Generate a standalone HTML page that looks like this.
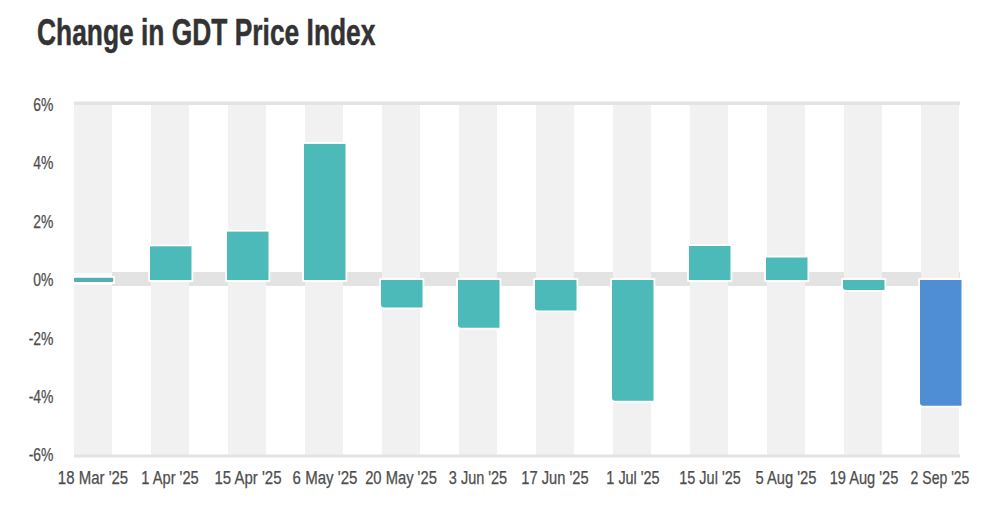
<!DOCTYPE html>
<html><head><meta charset="utf-8"><style>
html,body{-webkit-font-smoothing:antialiased;margin:0;padding:0;background:#fff;width:996px;height:518px;overflow:hidden;position:relative;font-family:"Liberation Sans",sans-serif;}
.title{position:absolute;left:37px;top:11.7px;font-size:37.2px;line-height:40px;font-weight:bold;color:#333;-webkit-text-stroke:0.5px #333;white-space:nowrap;transform-origin:0 0;transform:scaleX(0.709);}
.yl{position:absolute;left:0;width:53.4px;text-align:right;font-size:18.3px;line-height:20px;color:#4d4d4d;-webkit-text-stroke:0.25px #4d4d4d;transform-origin:100% 50%;transform:scaleX(0.76);}
.xl{position:absolute;top:468px;width:200px;text-align:center;font-size:18.3px;line-height:20px;color:#4d4d4d;-webkit-text-stroke:0.25px #4d4d4d;white-space:nowrap;transform-origin:50% 50%;transform:scaleX(0.815);}
svg{position:absolute;left:0;top:0;}
</style></head><body>
<svg width="996" height="518" viewBox="0 0 996 518">
<rect x="74" y="272" width="886" height="14" fill="#e3e3e3"/>
<rect x="74" y="105" width="38" height="350" fill="#f1f1f1"/>
<rect x="151" y="105" width="38" height="350" fill="#f1f1f1"/>
<rect x="228" y="105" width="38" height="350" fill="#f1f1f1"/>
<rect x="305" y="105" width="38" height="350" fill="#f1f1f1"/>
<rect x="382" y="105" width="38" height="350" fill="#f1f1f1"/>
<rect x="459" y="105" width="38" height="350" fill="#f1f1f1"/>
<rect x="536" y="105" width="38" height="350" fill="#f1f1f1"/>
<rect x="613" y="105" width="38" height="350" fill="#f1f1f1"/>
<rect x="690" y="105" width="38" height="350" fill="#f1f1f1"/>
<rect x="767" y="105" width="38" height="350" fill="#f1f1f1"/>
<rect x="844" y="105" width="38" height="350" fill="#f1f1f1"/>
<rect x="921" y="105" width="38" height="350" fill="#f1f1f1"/>
<rect x="74" y="101.5" width="886" height="3.5" fill="#e3e3e3"/>
<rect x="74" y="454.5" width="886" height="3" fill="#e3e3e3"/>
<rect x="74" y="273" width="38" height="12" fill="#fbfbfb"/>
<rect x="72.2" y="276.0" width="42.800000000000004" height="7.800000000000001" fill="#fff"/>
<rect x="148.2" y="244.5" width="45.1" height="37.29999999999999" fill="#fff"/>
<rect x="225.2" y="229.79999999999998" width="45.1" height="52.00000000000001" fill="#fff"/>
<rect x="302.2" y="142.1" width="45.1" height="139.7" fill="#fff"/>
<rect x="379.2" y="278.2" width="45.1" height="31.1" fill="#fff"/>
<rect x="456.2" y="278.2" width="45.1" height="51.29999999999999" fill="#fff"/>
<rect x="533.2" y="278.2" width="45.1" height="33.99999999999998" fill="#fff"/>
<rect x="610.2" y="278.2" width="45.1" height="124.29999999999998" fill="#fff"/>
<rect x="687.2" y="244.2" width="45.1" height="37.6" fill="#fff"/>
<rect x="764.2" y="255.7" width="45.1" height="26.1" fill="#fff"/>
<rect x="841.2" y="278.2" width="45.1" height="13.700000000000022" fill="#fff"/>
<rect x="918.2" y="278.2" width="45.1" height="129.29999999999998" fill="#fff"/>
<rect x="74" y="277.8" width="39.2" height="4.2" rx="1" fill="#52b0b0"/>
<rect x="150" y="246.3" width="41.5" height="33.7" fill="#4dbaba"/>
<rect x="227" y="231.6" width="41.5" height="48.4" fill="#4dbaba"/>
<rect x="304" y="143.9" width="41.5" height="136.1" fill="#4dbaba"/>
<path d="M381,280 H422.5 V307.5 H384 Q381,307.5 381,304.5 Z" fill="#4dbaba"/>
<path d="M458,280 H499.5 V327.7 H461 Q458,327.7 458,324.7 Z" fill="#4dbaba"/>
<path d="M535,280 H576.5 V310.4 H538 Q535,310.4 535,307.4 Z" fill="#4dbaba"/>
<path d="M612,280 H653.5 V400.7 H615 Q612,400.7 612,397.7 Z" fill="#4dbaba"/>
<rect x="689" y="246.0" width="41.5" height="34.0" fill="#4dbaba"/>
<rect x="766" y="257.5" width="41.5" height="22.5" fill="#4dbaba"/>
<path d="M843,280 H884.5 V290.1 H846 Q843,290.1 843,287.1 Z" fill="#4dbaba"/>
<path d="M920,280 H961.5 V405.7 H923 Q920,405.7 920,402.7 Z" fill="#4f8dd5"/>
</svg>
<div class="title">Change in GDT Price Index</div>
<div class="yl" style="top:94.9px">6%</div>
<div class="yl" style="top:153.3px">4%</div>
<div class="yl" style="top:211.7px">2%</div>
<div class="yl" style="top:270.1px">0%</div>
<div class="yl" style="top:328.6px">-2%</div>
<div class="yl" style="top:387.0px">-4%</div>
<div class="yl" style="top:445.4px">-6%</div>
<div class="xl" style="left:-7.10px;transform:scaleX(0.8198)">18 Mar '25</div>
<div class="xl" style="left:70.35px;transform:scaleX(0.8021)">1 Apr '25</div>
<div class="xl" style="left:148.05px;transform:scaleX(0.8213)">15 Apr '25</div>
<div class="xl" style="left:224.80px;transform:scaleX(0.8229)">6 May '25</div>
<div class="xl" style="left:300.95px;transform:scaleX(0.8070)">20 May '25</div>
<div class="xl" style="left:378.30px;transform:scaleX(0.7925)">3 Jun '25</div>
<div class="xl" style="left:455.30px;transform:scaleX(0.8027)">17 Jun '25</div>
<div class="xl" style="left:532.75px;transform:scaleX(0.7889)">1 Jul '25</div>
<div class="xl" style="left:609.50px;transform:scaleX(0.7913)">15 Jul '25</div>
<div class="xl" style="left:685.70px;transform:scaleX(0.8068)">5 Aug '25</div>
<div class="xl" style="left:763.70px;transform:scaleX(0.8006)">19 Aug '25</div>
<div class="xl" style="left:839.80px;transform:scaleX(0.7669)">2 Sep '25</div>
</body></html>
